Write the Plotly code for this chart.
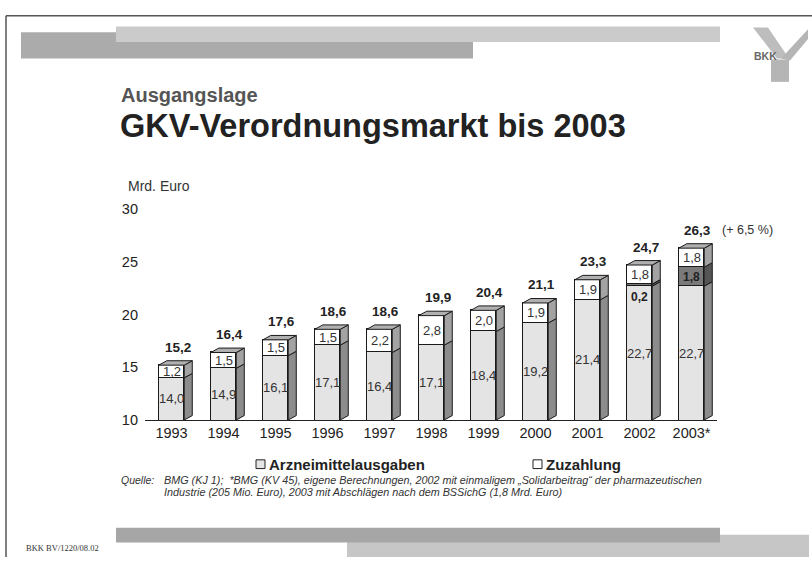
import plotly.graph_objects as go

# --- data (Mrd. Euro) ---
years = ['1993', '1994', '1995', '1996', '1997', '1998', '1999', '2000', '2001', '2002', '2003*']
arznei = [14.0, 14.9, 16.1, 17.1, 16.4, 17.1, 18.4, 19.2, 21.4, 22.7, 22.7]
abschlag = [None, None, None, None, None, None, None, None, None, 0.2, 1.8]
zuzahlung = [1.2, 1.5, 1.5, 1.5, 2.2, 2.8, 2.0, 1.9, 1.9, 1.8, 1.8]
totals = [15.2, 16.4, 17.6, 18.6, 18.6, 19.9, 20.4, 21.1, 23.3, 24.7, 26.3]
growth_note = '(+ 6,5 %)'
y_ticks = [10, 15, 20, 25, 30]

W, H = 812, 565
Y_RANGE = [10, 30]
X_RANGE = [-0.51, 10.49]
BAR_W = 0.49
DX, DY = 0.154, 0.42   # fake 3d depth in axis units

FONT = 'Arial, Liberation Sans, sans-serif'
EDGE = '#1a1a1a'


def px(x):
    return x / W


def py(y):
    return 1 - y / H


def de(v):
    return f'{v:.1f}'.replace('.', ',')


xs = list(range(len(years)))

fig = go.Figure()

# front faces
fig.add_trace(go.Bar(x=xs, y=arznei, width=BAR_W, name='Arzneimittelausgaben',
                     marker=dict(color='#e4e4e4', line=dict(color=EDGE, width=1))))
fig.add_trace(go.Bar(x=xs, y=abschlag, width=BAR_W, name='Abschläge',
                     marker=dict(color='#7a7a7a', line=dict(color=EDGE, width=1))))
fig.add_trace(go.Bar(x=xs, y=zuzahlung, width=BAR_W, name='Zuzahlung',
                     marker=dict(color='#ffffff', line=dict(color=EDGE, width=1))))


def side(x, lo, hi):
    xr = x + BAR_W / 2
    return ([xr, xr + DX, xr + DX, xr, xr, None],
            [lo, lo + DY, hi + DY, hi, lo, None])


def top(x, t):
    xl, xr = x - BAR_W / 2, x + BAR_W / 2
    return ([xl, xl + DX, xr + DX, xr, xl, None],
            [t, t + DY, t + DY, t, t, None])


groups = {'a': ([], [], '#8c8c8c'), 'd': ([], [], '#555555'),
          'z': ([], [], '#a3a3a3'), 't': ([], [], '#b0b0b0')}
for i in xs:
    base = Y_RANGE[0]
    sx, sy = side(i, base, arznei[i])
    groups['a'][0].extend(sx)
    groups['a'][1].extend(sy)
    cur = arznei[i]
    if abschlag[i]:
        sx, sy = side(i, cur, cur + abschlag[i])
        groups['d'][0].extend(sx)
        groups['d'][1].extend(sy)
        cur += abschlag[i]
    sx, sy = side(i, cur, cur + zuzahlung[i])
    groups['z'][0].extend(sx)
    groups['z'][1].extend(sy)
    tx, ty = top(i, cur + zuzahlung[i])
    groups['t'][0].extend(tx)
    groups['t'][1].extend(ty)

for gx, gy, col in groups.values():
    fig.add_trace(go.Scatter(x=gx, y=gy, mode='lines', fill='toself', fillcolor=col,
                             line=dict(color=EDGE, width=1), hoverinfo='skip'))

ann = []
# value labels
for i in xs:
    ann.append(dict(x=i, y=(Y_RANGE[0] + arznei[i]) / 2, text=de(arznei[i]),
                    showarrow=False, font=dict(size=13, color='#333333')))
    cur = arznei[i]
    if abschlag[i]:
        if abschlag[i] < 0.5:
            ann.append(dict(x=i, y=cur, yanchor='top', yshift=-2, text='<b>' + de(abschlag[i]) + '</b>',
                            showarrow=False, font=dict(size=12, color='#222222')))
        else:
            ann.append(dict(x=i, y=cur + abschlag[i] / 2, text='<b>' + de(abschlag[i]) + '</b>',
                            showarrow=False, font=dict(size=12, color='#222222')))
        cur += abschlag[i]
    ann.append(dict(x=i, y=cur + zuzahlung[i] / 2, text=de(zuzahlung[i]),
                    showarrow=False, font=dict(size=13, color='#333333')))
    ann.append(dict(x=i, y=totals[i], yshift=18, xshift=6, text='<b>' + de(totals[i]) + '</b>',
                    showarrow=False, font=dict(size=13.5, color='#222222')))
ann.append(dict(x=xs[-1], y=totals[-1], yshift=18, xshift=28, xanchor='left', text=growth_note,
                showarrow=False, font=dict(size=12.5, color='#333333')))


def note(x, y, text, size, color='#222222', anchor='left', **kw):
    return dict(x=px(x), y=py(y), xref='paper', yref='paper', showarrow=False,
                xanchor=anchor, yanchor='middle', text=text,
                font=dict(size=size, color=color, **kw))


ann += [
    note(126, 183, 'Mrd. Euro', 14, '#333333'),
    note(119, 90, '<b>Ausgangslage</b>', 20, '#555555'),
    note(118, 121, '<b>GKV-Verordnungsmarkt bis 2003</b>', 32.5, '#222222'),
    note(267, 470, '<b>Arzneimittelausgaben</b>', 15),
    note(544, 470, '<b>Zuzahlung</b>', 15),
    note(156, 486, '<i>Quelle:</i>', 10.5, '#333333', anchor='right'),
    note(162, 486, '<i>BMG (KJ 1);  *BMG (KV 45), eigene Berechnungen, 2002 mit einmaligem '
                   '„Solidarbeitrag“ der pharmazeutischen</i>', 10.8, '#333333'),
    note(162, 498, '<i>Industrie (205 Mio. Euro), 2003 mit Abschlägen nach dem BSSichG '
                   '(1,8 Mrd. Euro)</i>', 10.8, '#333333'),
    note(24, 556, 'BKK BV/1220/08.02', 8.5, '#333333', family='Liberation Serif, serif'),
    note(752, 49, '<b>BKK</b>', 10.5, '#666666'),
]


def rect(x0, y0, x1, y1, col):
    return dict(type='rect', xref='paper', yref='paper', x0=px(x0), x1=px(x1),
                y0=py(y1), y1=py(y0), fillcolor=col, line=dict(width=0))


def poly(pts, col):
    d = 'M ' + ' L '.join(f'{px(a):.4f},{py(b):.4f}' for a, b in pts) + ' Z'
    return dict(type='path', xref='paper', yref='paper', path=d, fillcolor=col, line=dict(width=0))


shapes = [
    # page frame
    dict(type='line', xref='paper', yref='paper', x0=px(6), x1=1, y0=py(8), y1=py(8),
         line=dict(color='#555555', width=1.5)),
    dict(type='line', xref='paper', yref='paper', x0=px(6), x1=px(6), y0=py(8), y1=0,
         line=dict(color='#555555', width=1.5)),
    # header bands
    rect(21, 25, 473, 52, '#ababab'),
    rect(116, 19, 720, 35, '#cbcbcb'),
    # footer bands
    rect(347, 542, 809, 565, '#c6c6c6'),
    rect(116, 535, 720, 550, '#a6a6a6'),
    # BKK logo
    poly([(753, 20), (768, 20), (789, 52), (777, 52)], '#bdbdbd'),
    poly([(808, 22), (808, 32), (790, 54), (781, 52)], '#b5b5b5'),
    rect(771, 53, 789, 76, '#b5b5b5'),
    # legend boxes
    dict(type='rect', xref='paper', yref='paper', x0=px(256), x1=px(265), y0=py(474), y1=py(465),
         fillcolor='#e4e4e4', line=dict(color='#222222', width=1)),
    dict(type='rect', xref='paper', yref='paper', x0=px(533), x1=px(542), y0=py(474), y1=py(465),
         fillcolor='#ffffff', line=dict(color='#222222', width=1)),
]

fig.update_layout(
    width=W, height=H, autosize=False,
    margin=dict(l=0, r=0, t=0, b=0),
    paper_bgcolor='white', plot_bgcolor='white',
    barmode='stack', bargap=0, showlegend=False,
    font=dict(family=FONT, color='#222222'),
    annotations=ann, shapes=shapes,
    xaxis=dict(domain=[px(145), px(717)], range=X_RANGE, tickmode='array', tickvals=xs,
               ticktext=years, showgrid=False, zeroline=False, showline=True,
               linecolor='#222222', linewidth=1, ticks='', tickfont=dict(size=14.5, color='#222222')),
    yaxis=dict(domain=[py(424), py(207)], range=Y_RANGE, tickmode='array', tickvals=y_ticks,
               showgrid=False, zeroline=False, showline=False, ticks='',
               ticklabelstandoff=6, tickfont=dict(size=14.5, color='#222222')),
)

# page body has a default 8px margin; drop it so the slide sits at the window origin
fig.write_html('out.html', config={'displayModeBar': False},
               post_script="document.body.style.margin='0';")
